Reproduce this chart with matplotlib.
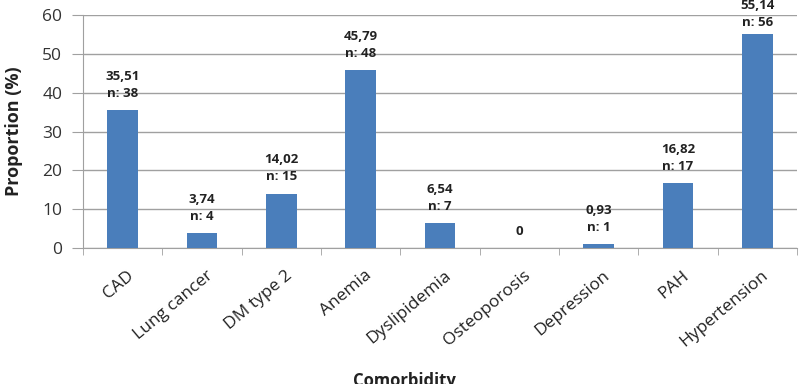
import matplotlib.pyplot as plt
import numpy as np

categories = ["CAD", "Lung cancer", "DM type 2", "Anemia", "Dyslipidemia",
              "Osteoporosis", "Depression", "PAH", "Hypertension"]
proportions = [35.51, 3.74, 14.02, 45.79, 6.54, 0, 0.93, 16.82, 55.14]
counts = [38, 4, 15, 48, 7, 0, 1, 17, 56]

plt.rcParams["font.family"] = ["Open Sans", "DejaVu Sans"]

fig = plt.figure(figsize=(8.09, 3.84), dpi=100)
ax = fig.add_axes([83 / 809, 1 - 248 / 384, (797 - 83) / 809, (248 - 15) / 384])

x = np.arange(len(categories))
ax.bar(x, proportions, width=0.39, color="#4a7ebb", zorder=3)

for xi, p, n in zip(x, proportions, counts):
    if p == 0:
        label = "0"
    else:
        label = f"{p:.2f}".replace(".", ",") + f"\nn: {n}"
    # labels near the top get squeezed down, like the original chart
    ax.text(xi, min(p + 2.6, 56.3), label, ha="center", va="bottom", fontsize=9.5,
            fontweight="bold", color="#222222", linespacing=1.4, zorder=4)

ax.set_xlim(-0.5, len(categories) - 0.5)
ax.set_ylim(0, 60)
ax.set_yticks(range(0, 61, 10))
ax.yaxis.grid(True, color="#a0a0a0", linewidth=1, zorder=0)
ax.tick_params(axis="y", length=8, color="#a0a0a0", labelsize=12.5, labelcolor="#333333", pad=7)

ax.set_xticks(x + 0.05)
ax.set_xticklabels(categories, rotation=40, ha="right", rotation_mode="anchor",
                   fontsize=12.5, color="#222222")
ax.tick_params(axis="x", length=0, pad=14)
ax.set_xticks(np.arange(-0.5, len(categories), 1.0), minor=True)
ax.tick_params(axis="x", which="minor", length=5, color="#a0a0a0")

for side in ["top", "right"]:
    ax.spines[side].set_visible(False)
ax.spines["left"].set_color("#a0a0a0")
ax.spines["bottom"].set_color("#a0a0a0")

ax.set_ylabel("Proportion (%)", fontsize=13, fontweight="bold", color="#222222", labelpad=14)
fig.text(0.5, -0.015, "Comorbidity", ha="center", va="bottom", fontsize=12,
         fontweight="bold", color="#222222")

fig.savefig("out.png", dpi=100)
